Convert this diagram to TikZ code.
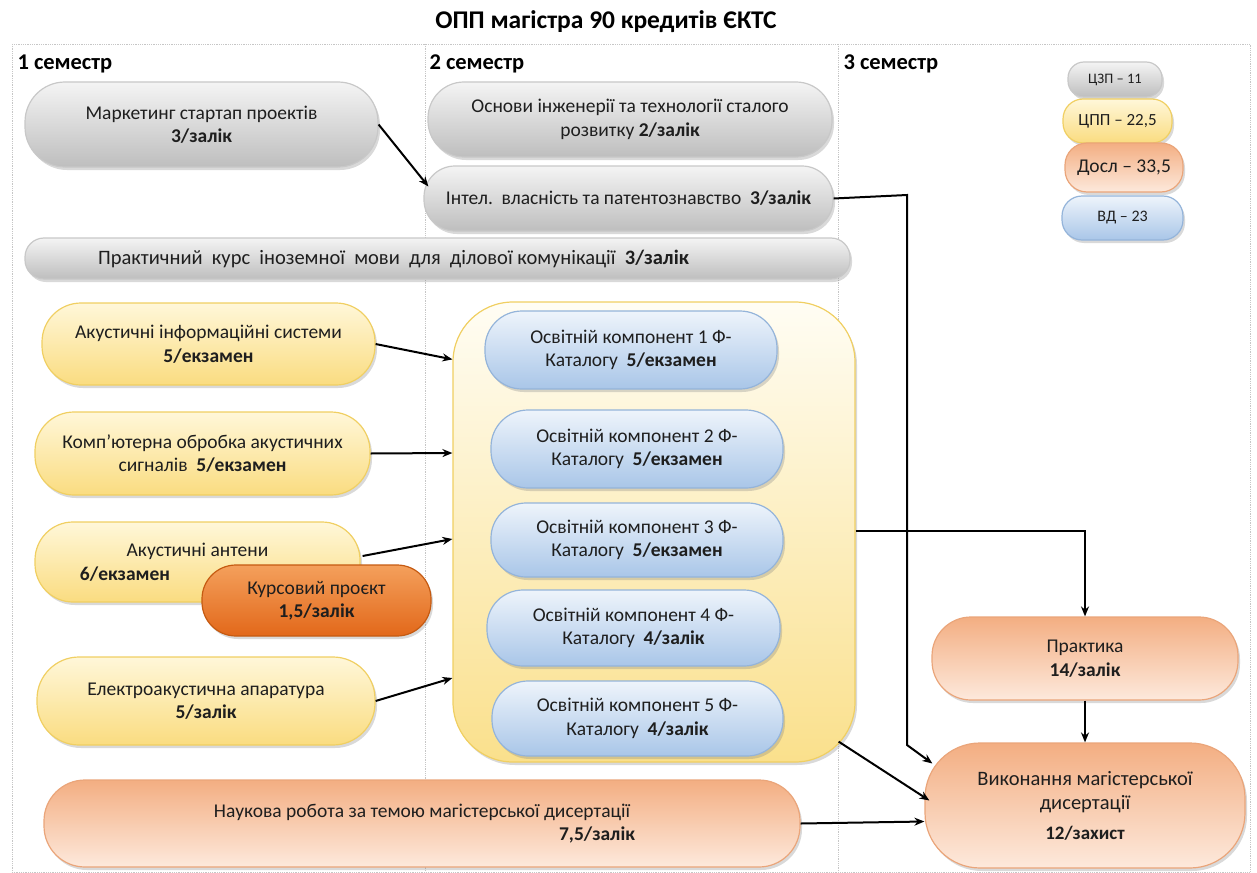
\documentclass[tikz,border=0pt]{standalone}
\usepackage{fontspec}
\setmainfont{Carlito}
\usetikzlibrary{shadows,arrows.meta,calc}
\definecolor{gyL}{HTML}{F4F4F4}
\definecolor{gyD}{HTML}{BEBEBE}
\definecolor{gyB}{HTML}{C8C8C8}
\definecolor{yL}{HTML}{FFF7D9}
\definecolor{yD}{HTML}{FADC80}
\definecolor{yB}{HTML}{F0CF62}
\definecolor{bL}{HTML}{EEF4FB}
\definecolor{bD}{HTML}{A9C6E8}
\definecolor{bB}{HTML}{94B4DA}
\definecolor{pL}{HTML}{FDE9DC}
\definecolor{pD}{HTML}{F3AE82}
\definecolor{pB}{HTML}{EAA57A}
\definecolor{oL}{HTML}{F4A05C}
\definecolor{oD}{HTML}{E2681A}
\definecolor{oB}{HTML}{C55A11}
\definecolor{cL}{HTML}{FFFDF4}
\definecolor{cD}{HTML}{FAE08C}
\definecolor{txt}{HTML}{1E1E1E}
\begin{document}
\begin{tikzpicture}[x=1pt,y=-1pt]
\tikzset{
  base/.style={draw, line width=1.2pt, align=center, inner sep=0pt, text=txt,
    font=\fontsize{19.5}{23.5}\selectfont,
    drop shadow={shadow xshift=2pt, shadow yshift=-3pt, opacity=0.3}},
  gy/.style={base, draw=gyB, top color=gyL, bottom color=gyD},
  yl/.style={base, draw=yB, top color=yL, bottom color=yD},
  bl/.style={base, draw=bB, top color=bL, bottom color=bD},
  pe/.style={base, draw=pB, top color=pD, bottom color=pL},
  orn/.style={base, draw=oB, top color=oL, bottom color=oD},
  cont/.style={base, draw=yB, top color=cL, bottom color=cD},
  arr/.style={line width=2pt, -{Stealth[length=10pt,width=8pt]}},
  frm/.style={gray!45, densely dotted, line width=0.8pt},
  sem/.style={anchor=west, text=black, font=\bfseries\fontsize{22.5}{26}\selectfont}
}
\useasboundingbox (0,0) rectangle (1257,872);
% frame
\draw[frm] (12,44) rectangle (1250,872);
\draw[frm] (425,44) -- (425,872);
\draw[frm] (838,44) -- (838,872);
% title and semesters
\node[text=black, font=\bfseries\fontsize{25.5}{30}\selectfont] (title) at (606,22) {ОПП магістра 90 кредитів ЄКТС};
\node[sem] (s1) at (14,64) {1 семестр};
\node[sem] (s2) at (426,64) {2 семестр};
\node[sem] (s3) at (840,64) {3 семестр};
% grey boxes
\node[gy, minimum width=353pt, minimum height=85pt, rounded corners=40pt] (mk) at (201.5,124.5) {Маркетинг стартап проектів\\\textbf{3/залік}};
\node[gy, minimum width=404pt, minimum height=75pt, rounded corners=36pt] (os) at (630,119.5) {Основи інженерії та технології сталого\\розвитку \textbf{2/залік}};
\node[gy, minimum width=409pt, minimum height=65pt, rounded corners=31pt] (in) at (628.5,198.5) {Інтел.\ \ власність та патентознавство\ \ \textbf{3/залік}};
\node[gy, minimum width=825pt, minimum height=41pt, rounded corners=19pt, font=\fontsize{20.5}{24}\selectfont] (pr) at (437.5,258.5) {Практичний\ \ курс\ \ іноземної\ \ мови\ \ для\ \ ділової комунікації\ \ \textbf{3/залік}\hspace*{88pt}};
% yellow boxes
\node[yl, minimum width=333pt, minimum height=82pt, rounded corners=39pt] (ai) at (208.5,344) {Акустичні інформаційні системи\\\textbf{5/екзамен}};
\node[yl, minimum width=335pt, minimum height=83pt, rounded corners=39pt] (ko) at (202.5,453.5) {Комп'ютерна обробка акустичних\\сигналів\ \ \textbf{5/екзамен}};
\node[yl, minimum width=325pt, minimum height=80pt, rounded corners=38pt] (aa) at (197.5,562) {Акустичні антени\\\textbf{6/екзамен}\hspace*{145pt}};
\node[orn, minimum width=229pt, minimum height=71pt, rounded corners=34pt] (kp) at (316.5,600.5) {Курсовий проєкт\\\textbf{1,5/залік}};
\node[yl, minimum width=338pt, minimum height=88pt, rounded corners=42pt] (el) at (206,701) {Електроакустична апаратура\\\textbf{5/залік}};
% container and catalogue components
\node[cont, minimum width=402pt, minimum height=460pt, rounded corners=60pt] (ct) at (654,532) {};
\node[bl, minimum width=292pt, minimum height=78pt, rounded corners=37pt] (ok1) at (631,350) {Освітній компонент 1 Ф-\\Каталогу\ \ \textbf{5/екзамен}};
\node[bl, minimum width=292pt, minimum height=78pt, rounded corners=37pt] (ok2) at (637,449) {Освітній компонент 2 Ф-\\Каталогу\ \ \textbf{5/екзамен}};
\node[bl, minimum width=292pt, minimum height=74pt, rounded corners=35pt] (ok3) at (637,540) {Освітній компонент 3 Ф-\\Каталогу\ \ \textbf{5/екзамен}};
\node[bl, minimum width=293pt, minimum height=76pt, rounded corners=36pt] (ok4) at (633.5,628) {Освітній компонент 4 Ф-\\Каталогу\ \ \textbf{4/залік}};
\node[bl, minimum width=291pt, minimum height=75pt, rounded corners=36pt] (ok5) at (637.5,718.5) {Освітній компонент 5 Ф-\\Каталогу\ \ \textbf{4/залік}};
% research boxes
\node[pe, minimum width=756pt, minimum height=87pt, rounded corners=41pt] (nr) at (422,823.5) {Наукова робота за темою магістерської дисертації\\\hspace*{350pt}\textbf{7,5/залік}};
\node[pe, minimum width=306pt, minimum height=83pt, rounded corners=39pt] (pk) at (1085,658.5) {Практика\\\textbf{14/залік}};
\node[pe, minimum width=320pt, minimum height=125pt, rounded corners=55pt, font=\fontsize{20.5}{24}\selectfont] (vm) at (1085,805.5) {Виконання магістерської\\дисертації\\[6pt]{\fontsize{19}{22}\selectfont\textbf{12/захист}}};
% legend
\node[gy, font=\fontsize{14.5}{17}\selectfont, minimum width=94pt, minimum height=35pt, rounded corners=16pt] (lz) at (1115,79.5) {ЦЗП – 11};
\node[yl, font=\fontsize{17}{20}\selectfont, minimum width=109pt, minimum height=44pt, rounded corners=20pt] (lp) at (1117.5,121) {ЦПП – 22,5};
\node[pe, font=\fontsize{19.5}{22}\selectfont, minimum width=118pt, minimum height=49pt, rounded corners=22pt] (ld) at (1124,167.5) {Досл – 33,5};
\node[bl, font=\fontsize{16}{19}\selectfont, minimum width=121pt, minimum height=44pt, rounded corners=20pt] (lv) at (1122.5,218) {ВД – 23};
% connectors
\draw[arr] (mk.east) -- ($(in.west)+(5,-12)$);
\coordinate (j1) at (907,195);
\coordinate (j2) at (907,745);
\draw[arr] (in.east) -- (j1) -- (j2) -- ($(vm.west)+(8,-42)$);
\draw[arr] (ai.east) -- ($(ct.north west)+(0,58)$);
\draw[arr] (ko.east) -- ($(ct.west)+(0,-79)$);
\draw[arr] ($(aa.east)+(2,-6)$) -- ($(ct.west)+(0,7)$);
\draw[arr] (el.east) -- ($(ct.west)+(0,146)$);
\coordinate (j3) at (1085,531);
\draw[arr] ($(ct.east)+(0,-1)$) -- (j3) -- (pk.north);
\draw[arr] (pk.south) -- (vm.north);
\draw[arr] ($(ct.south east)+(-17,-21)$) -- ($(vm.west)+(5,-5)$);
\draw[arr] (nr.east) -- ($(vm.west)+(0,16)$);
\end{tikzpicture}
\end{document}
